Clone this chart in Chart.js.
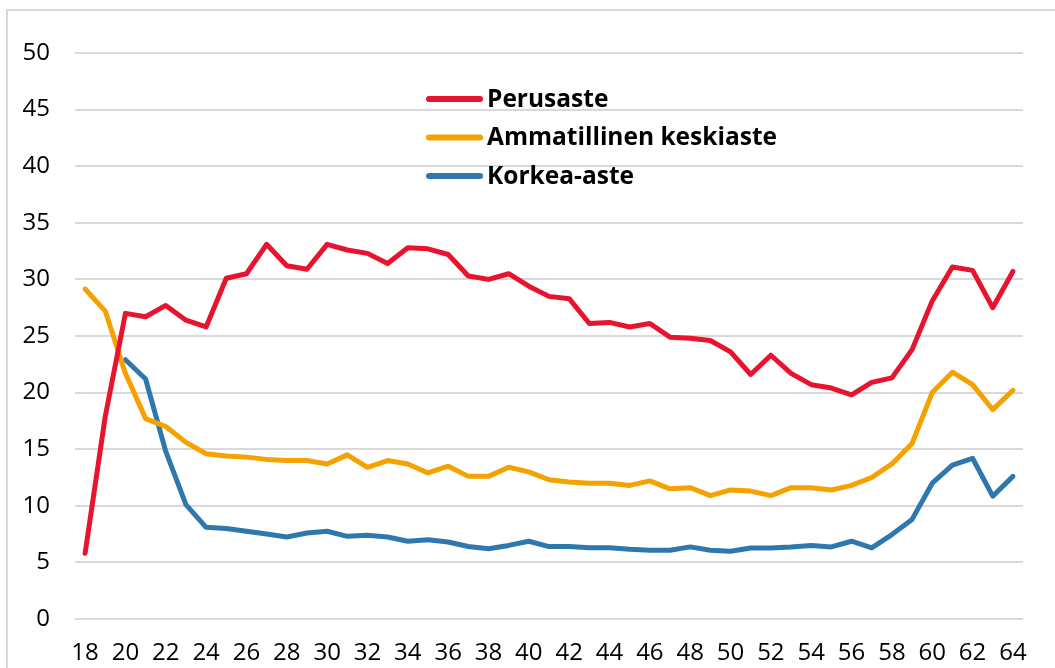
<!DOCTYPE html>
<html>
<head>
<meta charset="utf-8">
<script src="https://cdn.jsdelivr.net/npm/chart.js@4"></script>
<style>
  html, body { margin: 0; padding: 0; background: #fff; overflow: hidden; }
  #wrap { position: relative; width: 1055px; height: 668px; }
  #frame { position: absolute; left: 6px; top: 9px; width: 1100px; height: 700px; border: 2px solid #d9d9d9; box-sizing: border-box; }
  canvas { position: absolute; left: 0; top: 0; }
</style>
</head>
<body>
<div id="wrap">
  <div id="frame"></div>
  <canvas id="chart" width="1055" height="668"></canvas>
</div>
<script>
const ages = [18, 19, 20, 21, 22, 23, 24, 25, 26, 27, 28, 29, 30, 31, 32, 33, 34, 35, 36, 37, 38, 39, 40,
  41, 42, 43, 44, 45, 46, 47, 48, 49, 50, 51, 52, 53, 54, 55, 56, 57, 58, 59, 60, 61, 62, 63, 64];

const perusaste = [5.8, 17.9, 27.0, 26.7, 27.7, 26.4, 25.8, 30.1, 30.5, 33.1, 31.2, 30.9, 33.1, 32.6, 32.3, 31.4,
  32.8, 32.7, 32.2, 30.3, 30.0, 30.5, 29.4, 28.5, 28.3, 26.1, 26.2, 25.8, 26.1, 24.9, 24.8, 24.6,
  23.6, 21.6, 23.3, 21.7, 20.7, 20.4, 19.8, 20.9, 21.3, 23.8, 28.1, 31.1, 30.8, 27.5, 30.7];

const ammatillinen = [29.15, 27.2, 21.7, 17.7, 17.0, 15.6, 14.6, 14.4, 14.3, 14.1, 14.0, 14.0, 13.7, 14.5, 13.4, 14.0,
  13.7, 12.9, 13.5, 12.6, 12.6, 13.4, 13.0, 12.3, 12.1, 12.0, 12.0, 11.8, 12.2, 11.5, 11.6, 10.9,
  11.4, 11.3, 10.9, 11.6, 11.6, 11.4, 11.8, 12.5, 13.7, 15.5, 20.0, 21.8, 20.7, 18.5, 20.2];

const korkea = [null, null, 22.9, 21.2, 14.8, 10.1, 8.1, 8.0, 7.75, 7.5, 7.25, 7.6, 7.75, 7.3, 7.4, 7.25,
  6.87, 7.0, 6.8, 6.4, 6.2, 6.5, 6.87, 6.4, 6.4, 6.3, 6.3, 6.16, 6.07, 6.07, 6.37, 6.07,
  5.98, 6.28, 6.28, 6.37, 6.5, 6.37, 6.87, 6.28, 7.46, 8.8, 12.0, 13.6, 14.2, 10.85, 12.6];

const seriesNames = ['Perusaste', 'Ammatillinen keskiaste', 'Korkea-aste'];
const seriesColors = ['#e8132f', '#f5a100', '#2f78ad'];

// legend drawn inside the plot, like the original
const insideLegend = {
  id: 'insideLegend',
  afterDraw(chart) {
    const ctx = chart.ctx;
    ctx.save();
    ctx.font = 'bold 24.5px "Open Sans"';
    ctx.textBaseline = 'middle';
    ctx.lineCap = 'round';
    chart.data.datasets.forEach((ds, i) => {
      const y = 99 + i * 38.5;
      ctx.strokeStyle = ds.borderColor;
      ctx.lineWidth = 6;
      ctx.beginPath();
      ctx.moveTo(429, y);
      ctx.lineTo(480, y);
      ctx.stroke();
      ctx.fillStyle = '#000';
      ctx.fillText(ds.label, 487, y + 1);
    });
    ctx.restore();
  }
};

const makeSet = (i, data) => ({
  label: seriesNames[i],
  data: data,
  borderColor: seriesColors[i],
  backgroundColor: seriesColors[i],
  borderWidth: 5,
  pointRadius: 0,
  tension: 0,
  borderCapStyle: 'round',
  borderJoinStyle: 'round',
  spanGaps: false
});

new Chart(document.getElementById('chart'), {
  type: 'line',
  data: {
    labels: ages,
    datasets: [makeSet(0, perusaste), makeSet(1, ammatillinen), makeSet(2, korkea)]
  },
  options: {
    responsive: false,
    animation: false,
    layout: { padding: { top: 53, right: 32, left: 0, bottom: 0 } },
    plugins: {
      legend: { display: false },
      tooltip: { enabled: false }
    },
    scales: {
      x: {
        offset: true,
        afterFit: (s) => { s.height = 49; },
        grid: { display: false, drawTicks: false },
        border: { display: false },
        ticks: {
          autoSkip: false,
          maxRotation: 0,
          padding: 20,
          color: '#000',
          font: { family: 'Open Sans', size: 24 },
          callback: function(value) {
            const lab = this.getLabelForValue(value);
            return lab % 2 === 0 ? lab : '';
          }
        }
      },
      y: {
        min: 0,
        max: 50,
        afterFit: (s) => { s.width = 75; },
        grid: { color: '#d9d9d9', lineWidth: 2, drawTicks: false },
        border: { display: false },
        ticks: {
          stepSize: 5,
          padding: 25,
          color: '#000',
          font: { family: 'Open Sans', size: 24 }
        }
      }
    }
  },
  plugins: [insideLegend]
});
</script>
</body>
</html>
